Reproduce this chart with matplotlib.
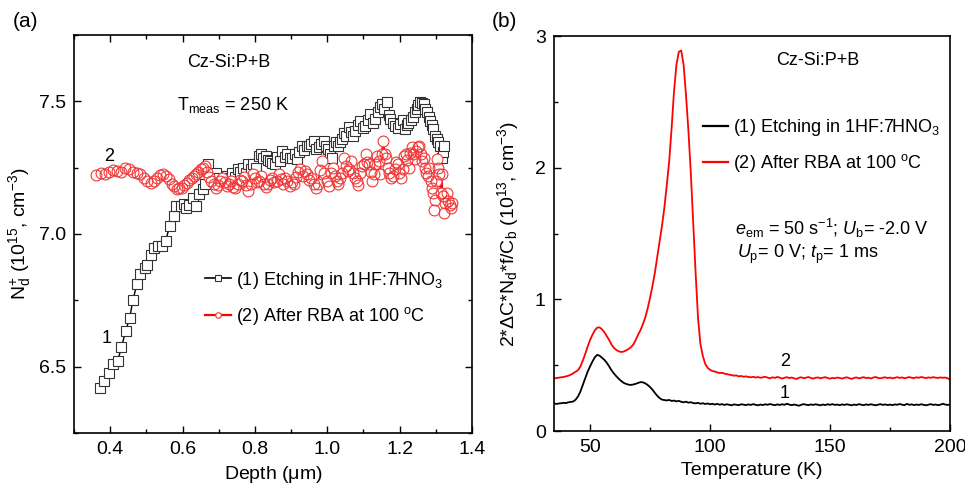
# -*- coding:utf-8 -*-
import numpy as np
import matplotlib
matplotlib.use('Agg')
import matplotlib.pyplot as plt
from matplotlib.lines import Line2D
from matplotlib.ticker import MultipleLocator

plt.rcParams['font.family'] = ['Liberation Sans', 'DejaVu Sans']
plt.rcParams['mathtext.fontset'] = 'custom'
plt.rcParams['mathtext.rm'] = 'Liberation Sans'
plt.rcParams['mathtext.it'] = 'Liberation Sans:italic'
plt.rcParams['mathtext.default'] = 'regular'

# ---- panel (a): depth profiles ----
depth_etch = [0.372, 0.383, 0.397, 0.408, 0.421, 0.431, 0.443, 0.454, 0.463, 0.474,
              0.483, 0.495, 0.503, 0.513, 0.520, 0.532, 0.544, 0.553, 0.564, 0.575,
              0.583, 0.596, 0.604, 0.610, 0.619, 0.628, 0.638, 0.646, 0.656, 0.662,
              0.669, 0.676, 0.684, 0.693, 0.700, 0.709, 0.716, 0.724, 0.731, 0.738,
              0.745, 0.752, 0.760, 0.767, 0.775, 0.782, 0.790, 0.796, 0.803, 0.810,
              0.816, 0.823, 0.830, 0.836, 0.842, 0.848, 0.855, 0.862, 0.869, 0.876,
              0.883, 0.890, 0.897, 0.903, 0.910, 0.916, 0.922, 0.929, 0.936, 0.943,
              0.949, 0.956, 0.963, 0.970, 0.977, 0.984, 0.990, 0.996, 1.002, 1.008,
              1.013, 1.019, 1.024, 1.030, 1.036, 1.041, 1.047, 1.053, 1.059, 1.066,
              1.072, 1.078, 1.085, 1.091, 1.098, 1.105, 1.112, 1.119, 1.126, 1.133,
              1.140, 1.146, 1.151, 1.158, 1.165, 1.170, 1.174, 1.181, 1.188, 1.195,
              1.201, 1.208, 1.215, 1.220, 1.224, 1.231, 1.238, 1.243, 1.247, 1.252,
              1.256, 1.261, 1.266, 1.271, 1.275, 1.280, 1.284, 1.289, 1.293, 1.298,
              1.302, 1.307, 1.312, 1.316, 1.320, 1.323]
nd_etch = [6.420, 6.447, 6.478, 6.510, 6.523, 6.573, 6.636, 6.684, 6.753, 6.811,
           6.848, 6.870, 6.883, 6.920, 6.946, 6.953, 6.955, 6.972, 7.029, 7.067,
           7.105, 7.105, 7.112, 7.098, 7.110, 7.136, 7.105, 7.150, 7.168, 7.190,
           7.262, 7.220, 7.200, 7.231, 7.210, 7.195, 7.205, 7.220, 7.210, 7.231,
           7.215, 7.244, 7.235, 7.250, 7.228, 7.262, 7.245, 7.263, 7.250, 7.295,
           7.300, 7.285, 7.294, 7.280, 7.275, 7.268, 7.263, 7.290, 7.275, 7.313,
           7.290, 7.300, 7.285, 7.288, 7.300, 7.282, 7.310, 7.332, 7.315, 7.330,
           7.332, 7.340, 7.350, 7.320, 7.326, 7.340, 7.350, 7.330, 7.320, 7.300,
           7.288, 7.330, 7.345, 7.330, 7.345, 7.358, 7.380, 7.370, 7.402, 7.385,
           7.370, 7.390, 7.410, 7.427, 7.400, 7.408, 7.430, 7.453, 7.420, 7.434,
           7.460, 7.480, 7.490, 7.470, 7.497, 7.450, 7.434, 7.420, 7.408, 7.400,
           7.415, 7.430, 7.396, 7.410, 7.420, 7.430, 7.440, 7.460, 7.472, 7.485,
           7.497, 7.495, 7.490, 7.470, 7.459, 7.440, 7.427, 7.410, 7.396, 7.370,
           7.358, 7.345, 7.332, 7.288, 7.310, 7.330]

depth_rba = [0.362, 0.374, 0.386, 0.397, 0.408, 0.419, 0.430, 0.441, 0.452, 0.463,
             0.473, 0.483, 0.493, 0.503, 0.512, 0.521, 0.530, 0.538, 0.546, 0.554,
             0.562, 0.570, 0.577, 0.584, 0.591, 0.598, 0.605, 0.612, 0.619, 0.626,
             0.632, 0.638, 0.644, 0.650, 0.656, 0.662, 0.668, 0.674, 0.680, 0.686,
             0.692, 0.698, 0.704, 0.710, 0.716, 0.722, 0.728, 0.734, 0.740, 0.746,
             0.752, 0.758, 0.764, 0.770, 0.776, 0.782, 0.788, 0.794, 0.800, 0.806,
             0.812, 0.818, 0.824, 0.830, 0.836, 0.842, 0.848, 0.854, 0.860, 0.866,
             0.872, 0.878, 0.884, 0.890, 0.896, 0.902, 0.908, 0.914, 0.920, 0.926,
             0.932, 0.938, 0.944, 0.950, 0.956, 0.962, 0.968, 0.974, 0.980, 0.986,
             0.992, 0.998, 1.004, 1.010, 1.016, 1.021, 1.026, 1.031, 1.036, 1.041,
             1.046, 1.051, 1.056, 1.061, 1.066, 1.071, 1.076, 1.081, 1.086, 1.091,
             1.096, 1.101, 1.106, 1.111, 1.116, 1.120, 1.124, 1.128, 1.133, 1.138,
             1.142, 1.146, 1.150, 1.155, 1.159, 1.163, 1.168, 1.172, 1.177, 1.181,
             1.186, 1.190, 1.195, 1.199, 1.204, 1.208, 1.213, 1.217, 1.221, 1.225,
             1.229, 1.234, 1.238, 1.242, 1.246, 1.250, 1.254, 1.258, 1.262, 1.266,
             1.270, 1.274, 1.278, 1.282, 1.286, 1.289, 1.292, 1.295, 1.298, 1.301,
             1.304, 1.307, 1.310, 1.313, 1.316, 1.319, 1.322, 1.326, 1.330, 1.334,
             1.338, 1.342, 1.345]
nd_rba = [7.221, 7.231, 7.225, 7.235, 7.240, 7.237, 7.232, 7.250, 7.244, 7.235,
          7.231, 7.225, 7.212, 7.200, 7.193, 7.198, 7.212, 7.222, 7.225, 7.218,
          7.206, 7.190, 7.180, 7.168, 7.172, 7.174, 7.185, 7.193, 7.205, 7.212,
          7.218, 7.225, 7.235, 7.244, 7.250, 7.256, 7.235, 7.215, 7.200, 7.190,
          7.174, 7.185, 7.200, 7.212, 7.195, 7.180, 7.187, 7.200, 7.176, 7.174,
          7.190, 7.205, 7.200, 7.215, 7.185, 7.161, 7.190, 7.225, 7.210, 7.195,
          7.200, 7.218, 7.190, 7.178, 7.187, 7.205, 7.212, 7.195, 7.200, 7.225,
          7.206, 7.187, 7.212, 7.200, 7.180, 7.195, 7.187, 7.215, 7.232, 7.244,
          7.220, 7.237, 7.225, 7.205, 7.212, 7.190, 7.174, 7.187, 7.240, 7.275,
          7.230, 7.200, 7.180, 7.230, 7.250, 7.218, 7.200, 7.187, 7.210, 7.231,
          7.288, 7.256, 7.237, 7.244, 7.275, 7.230, 7.212, 7.200, 7.185, 7.230,
          7.256, 7.263, 7.300, 7.270, 7.263, 7.235, 7.200, 7.225, 7.263, 7.294,
          7.275, 7.225, 7.300, 7.351, 7.300, 7.288, 7.250, 7.230, 7.212, 7.218,
          7.244, 7.270, 7.263, 7.230, 7.212, 7.245, 7.294, 7.300, 7.280, 7.250,
          7.307, 7.326, 7.300, 7.282, 7.313, 7.326, 7.332, 7.300, 7.275, 7.288,
          7.250, 7.230, 7.218, 7.250, 7.200, 7.174, 7.155, 7.092, 7.130, 7.200,
          7.282, 7.250, 7.225, 7.155, 7.225, 7.143, 7.080, 7.117, 7.155, 7.124,
          7.110, 7.098, 7.117]

# ---- panel (b): DLTS-like spectra ----
temperature = np.arange(35, 201)
signal_rba = [0.400, 0.402, 0.405, 0.408, 0.410, 0.415, 0.420, 0.428, 0.438, 0.450,
              0.462, 0.490, 0.535, 0.585, 0.640, 0.690, 0.730, 0.765, 0.785, 0.787,
              0.772, 0.750, 0.720, 0.690, 0.655, 0.630, 0.615, 0.605, 0.600, 0.603,
              0.612, 0.622, 0.636, 0.656, 0.690, 0.730, 0.765, 0.810, 0.860, 0.930,
              1.010, 1.100, 1.200, 1.320, 1.440, 1.560, 1.700, 1.870, 2.050, 2.300,
              2.580, 2.780, 2.880, 2.890, 2.780, 2.550, 2.280, 1.960, 1.580, 1.200,
              0.860, 0.660, 0.570, 0.510, 0.480, 0.465, 0.455, 0.452, 0.445, 0.440,
              0.442, 0.436, 0.432, 0.428, 0.425, 0.420, 0.422, 0.415, 0.418, 0.412,
              0.415, 0.410, 0.408, 0.412, 0.406, 0.410, 0.404, 0.408, 0.412, 0.405,
              0.400, 0.408, 0.403, 0.410, 0.406, 0.398, 0.404, 0.409, 0.402, 0.406,
              0.400, 0.395, 0.404, 0.408, 0.401, 0.405, 0.410, 0.403, 0.398, 0.404,
              0.407, 0.400, 0.405, 0.409, 0.402, 0.397, 0.404, 0.400, 0.406, 0.403,
              0.398, 0.404, 0.408, 0.401, 0.396, 0.403, 0.407, 0.400, 0.404, 0.409,
              0.402, 0.405, 0.399, 0.406, 0.410, 0.403, 0.400, 0.405, 0.408, 0.402,
              0.406, 0.400, 0.404, 0.409, 0.403, 0.407, 0.401, 0.405, 0.410, 0.404,
              0.402, 0.408, 0.404, 0.410, 0.406, 0.402, 0.407, 0.404, 0.409, 0.405,
              0.403, 0.407, 0.404, 0.406, 0.401, 0.388]
signal_etch = [0.210, 0.205, 0.209, 0.211, 0.214, 0.212, 0.218, 0.221, 0.224, 0.238,
               0.262, 0.300, 0.350, 0.400, 0.450, 0.490, 0.527, 0.560, 0.578, 0.572,
               0.556, 0.540, 0.518, 0.490, 0.460, 0.436, 0.415, 0.396, 0.380, 0.366,
               0.358, 0.352, 0.350, 0.353, 0.358, 0.365, 0.371, 0.370, 0.362, 0.350,
               0.334, 0.314, 0.290, 0.268, 0.250, 0.238, 0.235, 0.232, 0.236, 0.228,
               0.231, 0.225, 0.229, 0.222, 0.218, 0.223, 0.215, 0.219, 0.212, 0.210,
               0.214, 0.207, 0.211, 0.205, 0.209, 0.203, 0.207, 0.201, 0.206, 0.200,
               0.204, 0.198, 0.203, 0.199, 0.195, 0.202, 0.199, 0.196, 0.203, 0.200,
               0.197, 0.202, 0.198, 0.204, 0.199, 0.195, 0.201, 0.197, 0.203, 0.199,
               0.205, 0.200, 0.196, 0.202, 0.198, 0.203, 0.199, 0.207, 0.201, 0.196,
               0.201, 0.197, 0.192, 0.199, 0.204, 0.200, 0.196, 0.202, 0.198, 0.203,
               0.199, 0.195, 0.201, 0.197, 0.203, 0.199, 0.204, 0.198, 0.201, 0.196,
               0.202, 0.198, 0.203, 0.199, 0.195, 0.201, 0.197, 0.204, 0.200, 0.196,
               0.202, 0.198, 0.203, 0.199, 0.195, 0.200, 0.204, 0.198, 0.202, 0.197,
               0.201, 0.196, 0.202, 0.199, 0.205, 0.200, 0.196, 0.206, 0.199, 0.202,
               0.197, 0.201, 0.198, 0.203, 0.199, 0.195, 0.200, 0.204, 0.198, 0.201,
               0.196, 0.200, 0.207, 0.201, 0.198, 0.200]

label_etch = r'(1) Etching in 1HF:7HNO$_\mathregular{3}$'
label_rba = r'(2) After RBA at 100 $^\mathregular{o}$C'

fig = plt.figure(figsize=(9.65, 4.88), dpi=100)
axA = fig.add_axes([0.0767, 0.1127, 0.4124, 0.8156])
axB = fig.add_axes([0.5741, 0.1168, 0.4104, 0.8094])

FS = 13
TS = 14
LS = 14
for ax in (axA, axB):
    for sp in ax.spines.values():
        sp.set_linewidth(1.2)

# panel (a)
axA.plot(depth_etch, nd_etch, color='black', lw=1.0, marker='s', ms=7.3,
         mfc='white', mec='#333333', mew=0.8, zorder=2)
axA.plot(depth_rba, nd_rba, color='red', lw=1.2, zorder=3)
axA.plot(depth_rba, nd_rba, ls='none', marker='o', ms=7.8, mfc='white',
         mec='none', zorder=4)
axA.plot(depth_rba, nd_rba, ls='none', marker='o', ms=7.8, mfc='none',
         mec='#f03838', mew=0.8, zorder=5)

axA.set_xlim(0.3, 1.4)
axA.set_ylim(6.25, 7.75)
axA.xaxis.set_major_locator(MultipleLocator(0.2))
axA.xaxis.set_minor_locator(MultipleLocator(0.1))
axA.yaxis.set_major_locator(MultipleLocator(0.5))
axA.yaxis.set_minor_locator(MultipleLocator(0.25))
axA.tick_params(which='both', direction='in', top=True, right=True, labelsize=TS,
                width=1.0)
axA.tick_params(which='major', length=5, pad=6)
axA.tick_params(which='minor', length=3)
axA.set_xlabel(r'Depth ($\mu$m)', fontsize=LS, labelpad=4)
axA.set_ylabel(r'N$_\mathregular{d}^\mathregular{+}$ (10$^\mathregular{15}$, cm$^\mathregular{-3}$)',
               fontsize=LS, labelpad=4)

axA.text(0.39, 0.93, 'Cz-Si:P+B', transform=axA.transAxes, ha='center',
         va='center', fontsize=FS)
axA.text(0.40, 0.825, r'T$_\mathregular{meas}$ = 250 K', transform=axA.transAxes,
         ha='center', va='center', fontsize=FS)
axA.text(0.087, 0.695, '2', transform=axA.transAxes, ha='center', va='center',
         fontsize=FS)
axA.text(0.083, 0.237, '1', transform=axA.transAxes, ha='center', va='center',
         fontsize=FS)

hA = [Line2D([], [], color='black', lw=1.2, marker='s', ms=4, mfc='white',
             mec='#333333', mew=0.8),
      Line2D([], [], color='red', lw=1.6, marker='o', ms=4, mfc='white',
             mec='#f03030', mew=0.8)]
axA.legend(hA, [label_etch, label_rba], loc='upper left',
           bbox_to_anchor=(0.33, 0.41), frameon=False, fontsize=FS,
           handlelength=1.4, handletextpad=0.3, labelspacing=0.8,
           borderpad=0, borderaxespad=0)

# panel (b)
axB.plot(temperature, signal_etch, color='black', lw=1.3)
axB.plot(temperature, signal_rba, color='red', lw=1.3)
axB.set_xlim(35, 200)
axB.set_ylim(0, 3)
axB.xaxis.set_major_locator(MultipleLocator(50))
axB.xaxis.set_minor_locator(MultipleLocator(25))
axB.yaxis.set_major_locator(MultipleLocator(1))
axB.yaxis.set_minor_locator(MultipleLocator(0.5))
axB.tick_params(which='both', direction='in', labelsize=TS, width=1.0)
axB.tick_params(which='major', length=5, pad=6)
axB.tick_params(which='minor', length=3)
axB.set_xlabel('Temperature (K)', fontsize=LS, labelpad=4)
axB.set_ylabel(r'2*$\Delta$C*N$_\mathregular{d}$*f/C$_\mathregular{b}$ (10$^\mathregular{13}$, cm$^\mathregular{-3}$)',
               fontsize=LS, labelpad=10)

axB.text(0.665, 0.937, 'Cz-Si:P+B', transform=axB.transAxes, ha='center',
         va='center', fontsize=FS)
axB.text(0.456, 0.514,
         r'$\mathit{e}_\mathregular{em}$ = 50 s$^\mathregular{-1}$; $\mathit{U}_\mathregular{b}$= -2.0 V',
         transform=axB.transAxes, ha='left', va='center', fontsize=FS)
axB.text(0.463, 0.446,
         r'$\mathit{U}_\mathregular{p}$= 0 V; $\mathit{t}_\mathregular{p}$= 1 ms',
         transform=axB.transAxes, ha='left', va='center', fontsize=FS)
axB.text(0.583, 0.175, '2', transform=axB.transAxes, ha='center', va='center',
         fontsize=FS)
axB.text(0.583, 0.096, '1', transform=axB.transAxes, ha='center', va='center',
         fontsize=FS)

hB = [Line2D([], [], color='black', lw=1.6), Line2D([], [], color='red', lw=1.6)]
axB.legend(hB, [label_etch, label_rba], loc='upper left',
           bbox_to_anchor=(0.375, 0.795), frameon=False, fontsize=FS,
           handlelength=1.4, handletextpad=0.3, labelspacing=0.8,
           borderpad=0, borderaxespad=0)

fig.text(0.013, 0.955, '(a)', fontsize=15, ha='left', va='center')
fig.text(0.51, 0.955, '(b)', fontsize=15, ha='left', va='center')

fig.savefig('out.png', dpi=100)
